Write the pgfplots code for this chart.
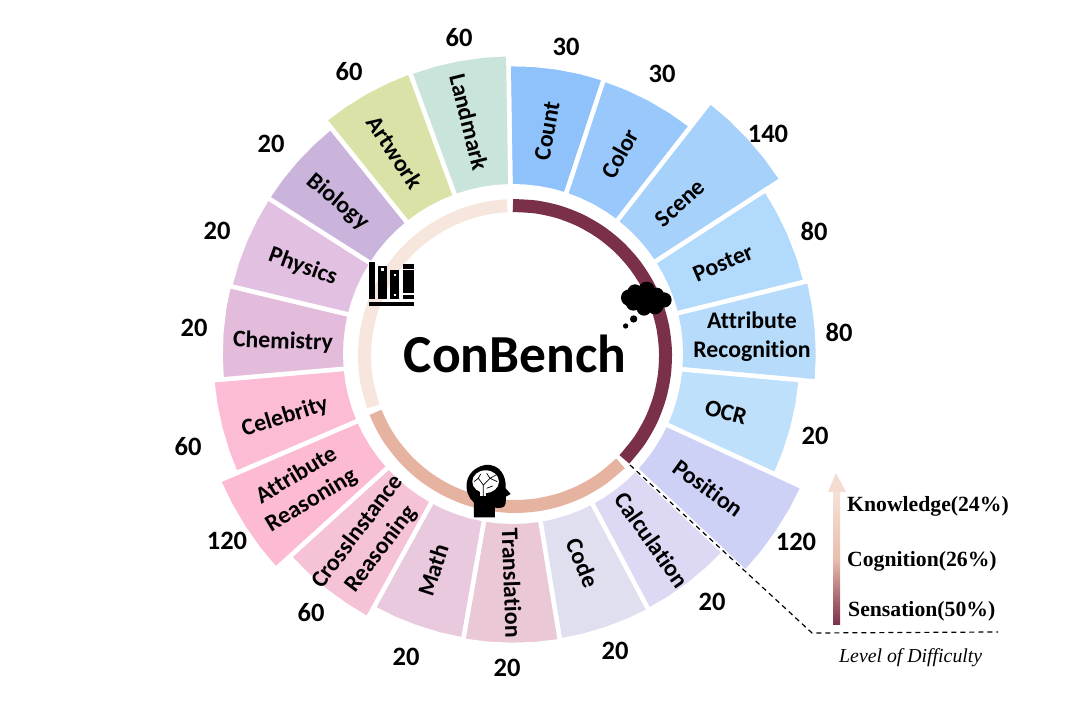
\documentclass[border=0pt]{standalone}
\usepackage{fontspec}
\setmainfont{Carlito}[Ligatures=NoCommon]
\newfontfamily\legendfont{Liberation Serif}
\usepackage{pgfplots}
\usepgfplotslibrary{polar}
\pgfplotsset{compat=1.18}

\definecolor{cCount}{HTML}{8FC1FB}
\definecolor{cColor}{HTML}{98C8FC}
\definecolor{cScene}{HTML}{A5D1FB}
\definecolor{cPoster}{HTML}{B1DAFC}
\definecolor{cAttr}{HTML}{B7DCFB}
\definecolor{cOCR}{HTML}{BFE0FB}
\definecolor{cPosition}{HTML}{CDD1F6}
\definecolor{cCalc}{HTML}{DDD8F3}
\definecolor{cCode}{HTML}{E0DFEF}
\definecolor{cTrans}{HTML}{EBC8D6}
\definecolor{cMath}{HTML}{E8C9DE}
\definecolor{cCross}{HTML}{F6C2D7}
\definecolor{cAttrR}{HTML}{FDBBD3}
\definecolor{cCeleb}{HTML}{FDBCD5}
\definecolor{cChem}{HTML}{E3BCDC}
\definecolor{cPhys}{HTML}{E1C0E2}
\definecolor{cBio}{HTML}{CAB4DC}
\definecolor{cArt}{HTML}{DAE2A8}
\definecolor{cLand}{HTML}{C9E4DB}
\definecolor{cSens}{HTML}{7B3049}
\definecolor{cCogn}{HTML}{E6B3A1}
\definecolor{cKnow}{HTML}{F7E6DD}

% one wedge: colour, outer radius, five angles along the arc
\newcommand\seg[7]{\addplot[data cs=polar,fill=#1,draw=white,line width=4.5pt]
  coordinates {(#3,#2)(#4,#2)(#5,#2)(#6,#2)(#7,#2)(#7,167.75)(#6,167.75)(#5,167.75)(#4,167.75)(#3,167.75)} --cycle;}

\begin{document}
\begin{tikzpicture}
\path[use as bounding box] (0,0) rectangle (1080pt,710pt);
\begin{axis}[
    scale only axis,
    width=1080pt,
    height=710pt,
    xmin=-513, xmax=567,
    ymin=-356, ymax=354,
    hide axis,
    clip=false,
]
\seg{cCount}{290}{90.9}{86.1}{81.3}{76.5}{71.7}
\seg{cColor}{289.5}{71.7}{66.8}{61.85}{56.9}{52}
\seg{cScene}{320.5}{52}{47.25}{42.5}{37.75}{33}
\seg{cPoster}{301.5}{33}{28.2}{23.45}{18.7}{13.9}
\seg{cAttr}{305}{13.9}{9.1}{4.35}{-0.45}{-5.2}
\seg{cOCR}{289}{-5.2}{-10.1}{-14.95}{-19.8}{-24.7}
\seg{cPosition}{319}{-24.7}{-29.3}{-33.95}{-38.6}{-43.2}
\seg{cCalc}{290}{-43.2}{-47.9}{-52.65}{-57.4}{-62.1}
\seg{cCode}{290.5}{-62.1}{-66.75}{-71.4}{-76.05}{-80.7}
\seg{cTrans}{291}{-80.7}{-85.5}{-90.3}{-95.1}{-99.9}
\seg{cMath}{290}{-99.9}{-104.6}{-109.35}{-114.1}{-118.8}
\seg{cCross}{302}{-118.8}{-123.55}{-128.3}{-133.05}{-137.8}
\seg{cAttrR}{320.5}{-137.8}{-142.5}{-147.25}{-152}{-156.7}
\seg{cCeleb}{302}{-156.7}{-161.25}{-165.85}{-170.4}{-175}
\seg{cChem}{292.5}{185}{180.4}{175.75}{171.1}{166.5}
\seg{cPhys}{291}{166.5}{161.75}{157}{152.25}{147.5}
\seg{cBio}{291}{147.5}{142.8}{138.15}{133.5}{128.8}
\seg{cArt}{300.5}{128.8}{124.1}{119.45}{114.8}{110.1}
\seg{cLand}{300}{110.1}{105.3}{100.5}{95.7}{90.9}

% difficulty ring
\addplot[data cs=polar,smooth,cSens,line width=13pt,xshift=2pt,yshift=-2pt] coordinates {
  (90.8,150.5)(81.9,150.5)(73,150.5)(64.1,150.5)(55.2,150.5)(46.3,150.5)(37.4,150.5)(28.5,150.5)
  (19.6,150.5)(10.7,150.5)(1.8,150.5)(-7.1,150.5)(-16,150.5)(-25,150.5)(-34.2,150.5)(-43.4,150.5)};
\addplot[data cs=polar,smooth,cCogn,line width=13pt,xshift=2pt,yshift=-2pt] coordinates {
  (-45.5,150.5)(-55,150.5)(-64,150.5)(-73,150.5)(-82,150.5)(-91,150.5)(-100,150.5)(-109,150.5)
  (-118,150.5)(-127,150.5)(-136,150.5)(-145,150.5)(-151.5,150.5)(-158,150.5)};
\addplot[data cs=polar,smooth,cKnow,line width=13pt,xshift=2pt,yshift=-2pt] coordinates {
  (199.6,150.5)(190,150.5)(181,150.5)(172,150.5)(163,150.5)(154,150.5)(145,150.5)(136,150.5)
  (127,150.5)(118,150.5)(109,150.5)(100,150.5)(93,150.5)};

% dashed leader
\addplot[black,line width=1.2pt,dash pattern=on 5pt off 4pt] coordinates {(117,-111)(299,-279)(485,-278)};
\end{axis}

% text and icons, in reference pixels
\begin{scope}[x=1pt,y=-1pt,shift={(0pt,710pt)},every node/.style={inner sep=0pt,align=center}]
\begin{scope}[every node/.append style={font=\fontsize{23.8}{29}\selectfont\bfseries}]
\node[rotate=80] at (547,131) {Count};
\node[rotate=61] at (620,154) {Color};
\node[rotate=42] at (680,203) {Scene};
\node[rotate=23] at (723,263) {Poster};
\node at (752,337) {Attribute\\Recognition};
\node[rotate=-15] at (726,412) {OCR};
\node[rotate=-36] at (708,488) {Position};
\node[rotate=-55] at (652,540) {Calculation};
\node[rotate=-68] at (583,563) {Code};
\node[rotate=-88] at (512,583) {Translation};
\node[rotate=72] at (433,570) {Math};
\node[rotate=53] at (370,541) {CrossInstance\\Reasoning};
\node[rotate=31] at (304,488) {Attribute\\Reasoning};
\node[rotate=17] at (285,417) {Celebrity};
\node[rotate=-2] at (283,342) {Chemistry};
\node[rotate=-20] at (303,267) {Physics};
\node[rotate=-40] at (338,202) {Biology};
\node[rotate=-57] at (395,152) {Artwork};
\node[rotate=-76] at (469,122) {Landmark};
\end{scope}
\begin{scope}[every node/.append style={font=\fontsize{26.5}{26}\selectfont\bfseries}]
\node at (566,47) {30};
\node at (662,74) {30};
\node at (768,134) {140};
\node at (814,231) {80};
\node at (839,332) {80};
\node at (815,436) {20};
\node at (796,542) {120};
\node at (712,602) {20};
\node at (615,651) {20};
\node at (507,668) {20};
\node at (406,657) {20};
\node at (311,613) {60};
\node at (227,541) {120};
\node at (188,447) {60};
\node at (194,328) {20};
\node at (217,231) {20};
\node at (271,144) {20};
\node at (349,72) {60};
\node at (459,38) {60};
\end{scope}
\node[anchor=base,font=\fontsize{53.5}{53}\selectfont\bfseries] at (515,373) {ConBench};

% legend
\shade[bottom color=cSens,top color=cKnow!90!cCogn,middle color=cCogn!85!white] (833,625) rectangle (840,492);
\fill[cKnow!80!cCogn] (828,492) -- (836,473) -- (846,492) -- cycle;
\begin{scope}[every node/.append style={anchor=west,font=\fontsize{21.7}{21}\selectfont\legendfont\bfseries}]
\node at (847,506) {Knowledge(24\%)};
\node at (847,561) {Cognition(26\%)};
\node at (848,611) {Sensation(50\%)};
\end{scope}
\node[anchor=west,font=\fontsize{19.8}{19}\selectfont\legendfont\itshape] at (839,658) {Level of Difficulty};
\end{scope}

% icons, in coordinates of the 3x crop at (340,180)
\begin{scope}[x=.3333pt,y=-.3333pt,shift={(340pt,530pt)}]
% books
\fill (88,367) rectangle (223,378);
\fill (88,245) rectangle (105,357);
\fill (113,257) rectangle (140,357);
\fill (150,270) rectangle (178,357);
\fill (188,252) rectangle (223,357);
\fill[white] (122,264) rectangle (132,274);
\fill[white] (161,281) rectangle (167,287);
\fill[white] (161,342) rectangle (167,348);
\fill[white] (188,266) rectangle (223,270);
\fill[white] (188,340) rectangle (223,344);
% cloud
\fill (868,353) circle (25) (885,335) circle (22) (920,330) circle (25) (950,345) circle (22)
  (972,360) circle (23) (945,378) circle (25) (912,385) circle (22) (880,370) circle (22) (915,355) circle (35);
\fill (881,417) circle (11) (857,438) circle (8);
% head
\fill (402,1012) -- (402,968) .. controls (368,940) and (368,870) .. (435,855)
  .. controls (480,850) and (500,890) .. (497,925) -- (512,942) -- (498,950) -- (497,970)
  .. controls (495,985) and (480,985) .. (465,983) -- (465,1012) -- cycle;
\fill[white] (437,905) ellipse (40 and 34);
\fill[white] (420,925) rectangle (438,948);
\draw[line width=.7pt] (430,948) -- (430,915) -- (415,895) (430,915) -- (450,895) -- (472,905)
  (450,895) -- (440,880) (415,895) -- (402,905) (415,895) -- (422,882) (450,895) -- (468,885)
  (440,925) -- (458,918);
\end{scope}
\end{tikzpicture}
\end{document}
